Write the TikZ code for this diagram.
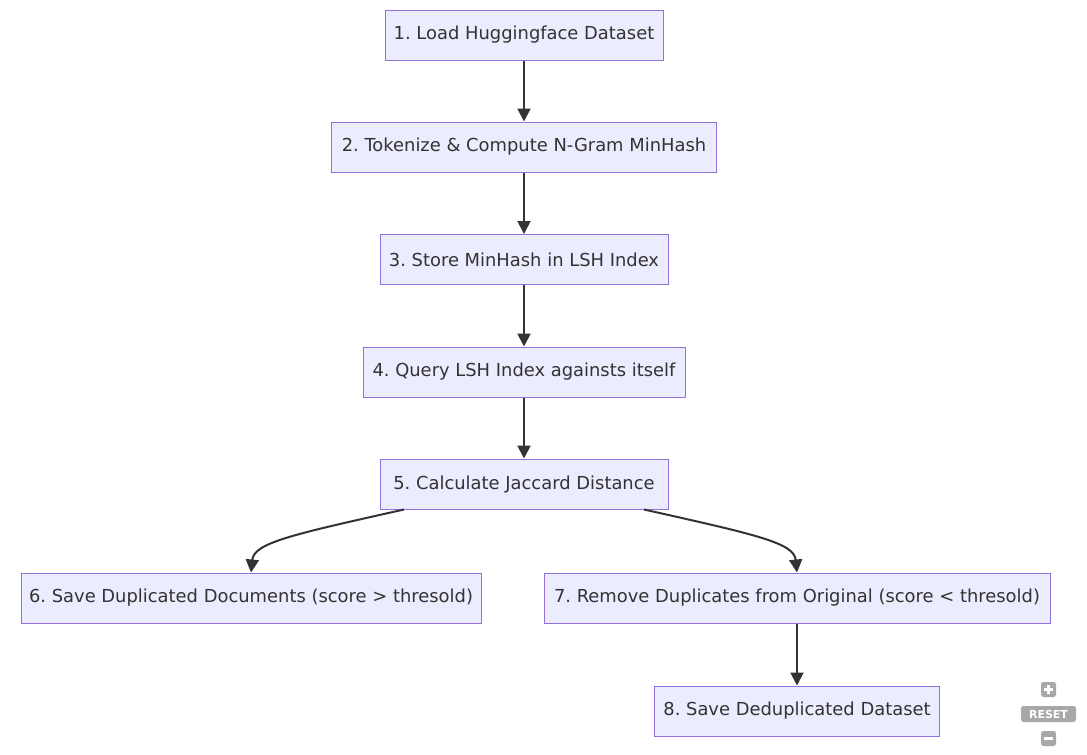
\documentclass[tikz,border=0pt]{standalone}
\usepackage{fontspec}
\setmainfont{DejaVu Sans}
\usetikzlibrary{arrows.meta}
\definecolor{boxfill}{HTML}{ECECFF}
\definecolor{boxline}{HTML}{9370DB}
\definecolor{ink}{HTML}{333333}
\definecolor{ctrl}{HTML}{A8A8A8}
\frenchspacing
\begin{document}
\begin{tikzpicture}[x=1pt,y=-1pt,
  box/.style={draw=boxline,fill=boxfill,line width=1pt,text=ink,minimum height=50pt,inner sep=0pt,font=\fontsize{17.9pt}{21pt}\selectfont,anchor=center},
  flow/.style={draw=ink,line width=2pt,-{Triangle[length=13pt,width=13pt]}},
  ctrlbox/.style={fill=ctrl,rounded corners=2.5pt,inner sep=0pt}]
\useasboundingbox (0,0) rectangle (1087,755);
\node[box,minimum width=278pt] (n1) at (524,35) {1. Load Huggingface Dataset};
\node[box,minimum width=385pt] (n2) at (524,147) {2. Tokenize \& Compute N-Gram MinHash};
\node[box,minimum width=288pt] (n3) at (524,259.5) {3. Store MinHash in LSH Index};
\node[box,minimum width=322pt] (n4) at (524,372) {4. Query LSH Index againsts itself};
\node[box,minimum width=288pt] (n5) at (524,484) {5. Calculate Jaccard Distance};
\node[box,minimum width=460pt] (n6) at (251,598) {6. Save Duplicated Documents (score > thresold)};
\node[box,minimum width=506pt] (n7) at (797,598) {7. Remove Duplicates from Original (score < thresold)};
\node[box,minimum width=285pt] (n8) at (797,711) {8. Save Deduplicated Dataset};
\draw[flow] (n1.south) -- (n2.north);
\draw[flow] (n2.south) -- (n3.north);
\draw[flow] (n3.south) -- (n4.north);
\draw[flow] (n4.south) -- (n5.north);
\coordinate (s6) at ([xshift=-120pt]n5.south);
\coordinate (s7) at ([xshift=120pt]n5.south);
\draw[flow] (s6) .. controls (290,535) and (254,543) .. (n6.north);
\draw[flow] (s7) .. controls (758,535) and (794,543) .. (n7.north);
\draw[flow] (n7.south) -- (n8.north);
% zoom controls
\node[ctrlbox,minimum width=15pt,minimum height=15pt] (zin) at (1048.5,689.5) {};
\draw[white,line width=2.2pt] ([xshift=-4.5pt]zin.center) -- ([xshift=4.5pt]zin.center);
\draw[white,line width=2.2pt] ([yshift=-4.5pt]zin.center) -- ([yshift=4.5pt]zin.center);
\node[ctrlbox,minimum width=55pt,minimum height=16pt,text=white,font=\fontsize{11pt}{12pt}\selectfont\bfseries] (zreset) at (1048.5,714) {RESET};
\node[ctrlbox,minimum width=15pt,minimum height=15pt] (zout) at (1048.5,738.5) {};
\draw[white,line width=2.2pt] ([xshift=-4.5pt]zout.center) -- ([xshift=4.5pt]zout.center);
\end{tikzpicture}
\end{document}
